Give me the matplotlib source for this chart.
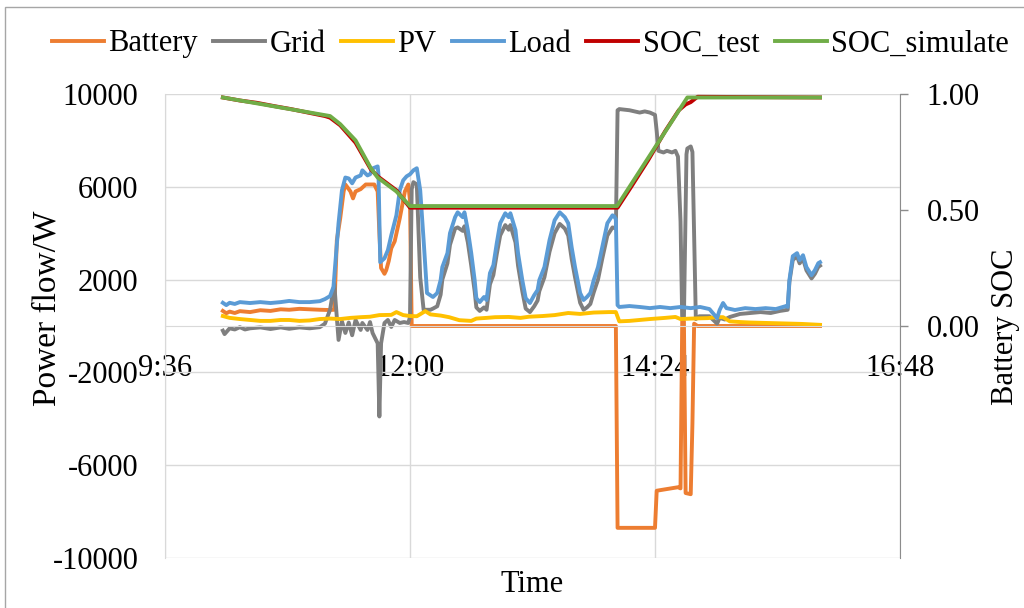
import matplotlib
matplotlib.use("Agg")
import matplotlib.pyplot as plt
from matplotlib.patches import Rectangle

plt.rcParams['font.family'] = ['Liberation Serif', 'DejaVu Serif']

# ---- data (clock time, value) ----
load_t = ["10:10", "10:12", "10:14", "10:17", "10:20", "10:26", "10:32", "10:38", "10:44", "10:49",
          "10:55", "11:01", "11:07", "11:10", "11:13", "11:15", "11:18", "11:20", "11:22", "11:24",
          "11:26", "11:28", "11:31", "11:32", "11:35", "11:36:30", "11:38", "11:41", "11:41:30", "11:42:30",
          "11:45", "11:47", "11:49", "11:52", "11:54", "11:56", "11:58", "12:00", "12:02", "12:04",
          "12:06", "12:08", "12:10", "12:13:30", "12:16", "12:18", "12:19", "12:22", "12:23:30", "12:26:30",
          "12:28", "12:31", "12:32", "12:34", "12:36", "12:38", "12:39", "12:41", "12:43:30", "12:45",
          "12:47", "12:49", "12:51", "12:53", "12:56", "12:58", "12:59", "13:02", "13:03:30", "13:06",
          "13:08", "13:10:30", "13:13", "13:15", "13:16", "13:19", "13:22", "13:25", "13:28", "13:31",
          "13:33", "13:35", "13:37", "13:40", "13:42", "13:44", "13:46", "13:48", "13:50:30", "13:53",
          "13:56", "13:59", "14:00", "14:01", "14:02", "14:03", "14:09", "14:15", "14:21", "14:27",
          "14:33", "14:39", "14:45", "14:50:30", "14:56", "15:00:30", "15:02", "15:04", "15:06", "15:11",
          "15:17", "15:23", "15:29", "15:35", "15:41", "15:42", "15:43", "15:45", "15:47:30", "15:49",
          "15:51", "15:53", "15:56", "15:58", "16:00", "16:01"]
load_w = [1000, 900, 1000, 950, 1030, 990, 1030, 990, 1030, 1080,
          1030, 1030, 1070, 1160, 1290, 1680, 4430, 5850, 6400, 6360,
          6150, 6400, 6490, 6710, 6490, 6540, 6790, 6880, 6500, 2750,
          2920, 3270, 3910, 4770, 5850, 6280, 6450, 6540, 6710, 6800,
          5850, 3700, 1420, 1250, 1420, 1980, 2540, 3140, 4000, 4690,
          4900, 4690, 4900, 4130, 3140, 1980, 1200, 1030, 1250, 1120,
          2280, 2620, 3570, 4430, 4860, 4690, 4860, 4130, 3140, 1980,
          1200, 990, 1330, 1550, 1980, 2540, 3700, 4560, 4900, 4690,
          4430, 3400, 2540, 1420, 1120, 1250, 1420, 1980, 2540, 3400,
          4430, 4770, 4730, 4600, 900, 820, 860, 820, 770, 820,
          770, 820, 770, 820, 730, 340, 690, 990, 770, 690,
          770, 730, 770, 730, 860, 820, 1980, 3010, 3140, 2840,
          3050, 2540, 2190, 2410, 2710, 2750]

grid_t = ["10:10", "10:11", "10:14", "10:17", "10:20", "10:23", "10:26", "10:32", "10:38", "10:44",
          "10:49", "10:55", "11:01", "11:07", "11:10", "11:13", "11:15:30", "11:18", "11:20", "11:22",
          "11:24", "11:26", "11:28", "11:31", "11:32", "11:35", "11:36:30", "11:38", "11:41", "11:42",
          "11:43", "11:45", "11:47", "11:49", "11:51", "11:54", "11:56:30", "11:59", "12:00", "12:01",
          "12:02", "12:04", "12:06", "12:08", "12:10", "12:12", "12:13:30", "12:16", "12:18", "12:19",
          "12:22", "12:23:30", "12:26:30", "12:28", "12:31", "12:32", "12:34", "12:36", "12:38", "12:39",
          "12:41", "12:43:30", "12:45", "12:47", "12:49", "12:51", "12:53", "12:56", "12:58", "12:59",
          "13:02", "13:03:30", "13:06", "13:08", "13:10:30", "13:13", "13:15", "13:16", "13:19", "13:22",
          "13:25", "13:28", "13:31", "13:33", "13:35", "13:37", "13:40", "13:42", "13:44", "13:46",
          "13:48", "13:50:30", "13:53", "13:56", "13:59", "14:01", "14:02", "14:03", "14:09", "14:15",
          "14:18", "14:21", "14:24", "14:25", "14:26", "14:29", "14:31", "14:34", "14:36", "14:37:30",
          "14:39", "14:40", "14:41", "14:42:30", "14:43", "14:45", "14:46", "14:47", "14:48", "14:50",
          "14:56", "15:00:30", "15:02", "15:05", "15:08", "15:14", "15:20", "15:26", "15:32", "15:37:30",
          "15:42", "15:43", "15:45", "15:47:30", "15:49", "15:51", "15:53", "15:56", "15:58", "16:00",
          "16:01"]
grid_w = [-200, -350, -100, -150, -50, -150, -100, -60, -130, -60,
          -120, -60, -100, -50, 100, 700, 1800, -600, 200, -300,
          150, -400, 260, -170, 130, -170, 170, -300, -750, -3900,
          -750, 130, 260, -40, 260, 130, 170, 130, 390, 5900,
          6200, 6100, 2100, 700, 700, 700, 750, 850, 1350, 2000,
          2700, 3500, 4200, 4250, 4100, 4300, 3600, 2600, 1500, 800,
          650, 800, 700, 1800, 2200, 3100, 3900, 4350, 4150, 4350,
          3600, 2600, 1500, 750, 600, 850, 1100, 1500, 2100, 3200,
          4000, 4400, 4200, 3900, 2900, 2100, 1000, 700, 800, 950,
          1450, 2000, 2900, 3900, 4250, 4200, 9300, 9350, 9300, 9200,
          9250, 9200, 9100, 8400, 7550, 7480, 7550, 7480, 7550, 7300,
          4500, 300, 350, 7400, 7650, 7740, 7500, 4000, 300, 420,
          420, 100, 350, 280, 390, 520, 560, 600, 560, 650,
          700, 1900, 2850, 3000, 2700, 2900, 2400, 2050, 2250, 2550,
          2600]

battery_t = ["10:10", "10:12", "10:14", "10:17", "10:20", "10:26", "10:32", "10:38", "10:44", "10:49",
             "10:55", "11:01", "11:07", "11:12", "11:15:30", "11:17", "11:19", "11:21", "11:22", "11:25",
             "11:26:30", "11:28", "11:31", "11:34", "11:36:30", "11:39", "11:41", "11:42", "11:43", "11:45",
             "11:46", "11:47:30", "11:49", "11:51", "11:54", "11:57", "11:59", "12:00", "12:01", "14:01",
             "14:02", "14:24", "14:25", "14:37:30", "14:39", "14:40", "14:41", "14:42", "14:45", "14:46",
             "14:47", "14:49", "16:01"]
battery_w = [650, 550, 620, 560, 640, 600, 680, 650, 720, 700,
             740, 720, 700, 690, 700, 3700, 4650, 5800, 6100, 5800,
             5500, 5800, 5900, 6100, 6100, 6100, 5800, 4000, 2500, 2250,
             2400, 2800, 3350, 3650, 4650, 5800, 6100, 5400, 0, 0,
             -8700, -8700, -7100, -6950, -7000, 200, 200, -7200, -7250, -4200,
             100, 0, 0]

pv_t = ["10:10", "10:14", "10:20", "10:26", "10:32", "10:38", "10:44", "10:49", "10:55", "11:01",
        "11:07", "11:13", "11:19", "11:25", "11:31", "11:36:30", "11:42", "11:49", "11:52", "11:56",
        "12:00", "12:04", "12:09", "12:12", "12:18", "12:23", "12:29", "12:36", "12:39", "12:45",
        "12:50", "12:58", "13:05", "13:10", "13:18", "13:25", "13:33", "13:40", "13:48", "13:57",
        "14:01", "14:03", "14:09", "14:15", "14:21", "14:30", "14:36", "14:39", "14:45", "14:55",
        "15:00", "15:04", "15:08", "15:14", "15:20", "15:30", "15:40", "15:50", "16:01"]
pv_w = [430, 350, 300, 260, 220, 220, 260, 260, 220, 240,
        300, 320, 300, 350, 380, 400, 470, 480, 600, 470,
        430, 420, 640, 500, 450, 380, 250, 220, 320, 350,
        380, 390, 350, 400, 430, 470, 560, 520, 580, 600,
        600, 200, 220, 260, 300, 350, 390, 300, 320, 340,
        380, 380, 200, 170, 150, 130, 110, 90, 50]

soc_test_t = ["10:10", "10:20", "10:30", "10:40", "10:50", "11:00", "11:10", "11:13", "11:19", "11:28",
              "11:37", "11:41", "11:52", "12:00", "14:02", "14:10", "14:20", "14:30", "14:38", "14:42",
              "14:45", "14:49", "16:01"]
soc_test = [0.985, 0.972, 0.962, 0.948, 0.935, 0.92, 0.905, 0.898, 0.865, 0.79,
            0.675, 0.645, 0.585, 0.51, 0.51, 0.60, 0.715, 0.84, 0.93, 0.955,
            0.965, 0.988, 0.985]

soc_sim_t = ["10:10", "11:13", "11:19", "11:28", "11:37", "11:41", "11:52", "12:00", "14:01:42", "14:43",
             "16:01"]
soc_sim = [0.985, 0.905, 0.87, 0.80, 0.68, 0.64, 0.58, 0.517, 0.517, 0.985,
           0.985]

x_ticks = ["9:36", "12:00", "14:24", "16:48"]
y_ticks = [-10000, -6000, -2000, 2000, 6000, 10000]
soc_ticks = [0.0, 0.5, 1.0]


def hrs(s):
    p = [int(v) for v in s.split(":")]
    return p[0] + p[1] / 60 + (p[2] if len(p) > 2 else 0) / 3600


def hrs_all(lst):
    return [hrs(s) for s in lst]


fig = plt.figure(figsize=(10.24, 6.08), dpi=100)
W, H = 1024, 608
ax = fig.add_axes([165 / W, 1 - 558 / H, 735 / W, 464 / H])
ax2 = ax.twinx()

lw = 2.8
lb, = ax.plot(hrs_all(battery_t), battery_w, color='#ED7D31', lw=lw, solid_joinstyle='round')
lg, = ax.plot(hrs_all(grid_t), grid_w, color='#7F7F7F', lw=lw, solid_joinstyle='round')
lp, = ax.plot(hrs_all(pv_t), pv_w, color='#FFC000', lw=lw, solid_joinstyle='round')
ll, = ax.plot(hrs_all(load_t), load_w, color='#5B9BD5', lw=lw, solid_joinstyle='round')
lt, = ax2.plot(hrs_all(soc_test_t), soc_test, color='#C00000', lw=lw, solid_joinstyle='round')
ls, = ax2.plot(hrs_all(soc_sim_t), soc_sim, color='#70AD47', lw=lw, solid_joinstyle='round')

ax.set_xlim(hrs("9:36"), hrs("16:48"))
ax.set_ylim(-10000, 10000)
ax2.set_ylim(-1, 1)

ax.set_xticks(hrs_all(x_ticks))
ax.set_xticklabels(x_ticks)
ax.set_yticks(y_ticks)
ax.set_yticklabels([str(v) for v in y_ticks])
ax2.set_yticks(soc_ticks)
ax2.set_yticklabels(["%.2f" % v for v in soc_ticks])

ax.set_axisbelow(True)
ax.grid(True, color='#D9D9D9', lw=1)
for s in ['top', 'right']:
    ax.spines[s].set_visible(False)
ax.spines['left'].set_color('#D9D9D9')
ax.spines['bottom'].set_position(('data', 0))
ax.spines['bottom'].set_color('#D9D9D9')
for s in ['top', 'left', 'bottom']:
    ax2.spines[s].set_visible(False)
ax2.spines['right'].set_color('#8C8C8C')

ax.tick_params(axis='y', length=0, pad=19, labelsize=22)
ax.tick_params(axis='x', length=0, pad=20, labelsize=22)
ax2.tick_params(axis='y', direction='out', length=6, width=1, color='#8C8C8C', pad=13, labelsize=22)

fig.text(47 / W, 1 - 308 / H, "Power flow/W", rotation=90, ha='center', va='center', fontsize=24)
fig.text(1005 / W, 1 - 327 / H, "Battery SOC", rotation=90, ha='center', va='center', fontsize=22)
fig.text(532 / W, 1 - 585 / H, "Time", ha='center', va='center', fontsize=22)

fig.legend([lb, lg, lp, ll, lt, ls], ["Battery", "Grid", "PV", "Load", "SOC_test", "SOC_simulate"],
           loc='center', bbox_to_anchor=(0.518, 1 - 44 / H), ncol=6, frameon=False, fontsize=22,
           handlelength=1.7, handletextpad=0.15, columnspacing=0.5)

fig.patches.append(Rectangle((5 / W, -0.1), 1.2, 0.1 + (H - 7) / H, transform=fig.transFigure,
                             fill=False, edgecolor='#A6A6A6', lw=1))

fig.savefig("out.png", dpi=100)
